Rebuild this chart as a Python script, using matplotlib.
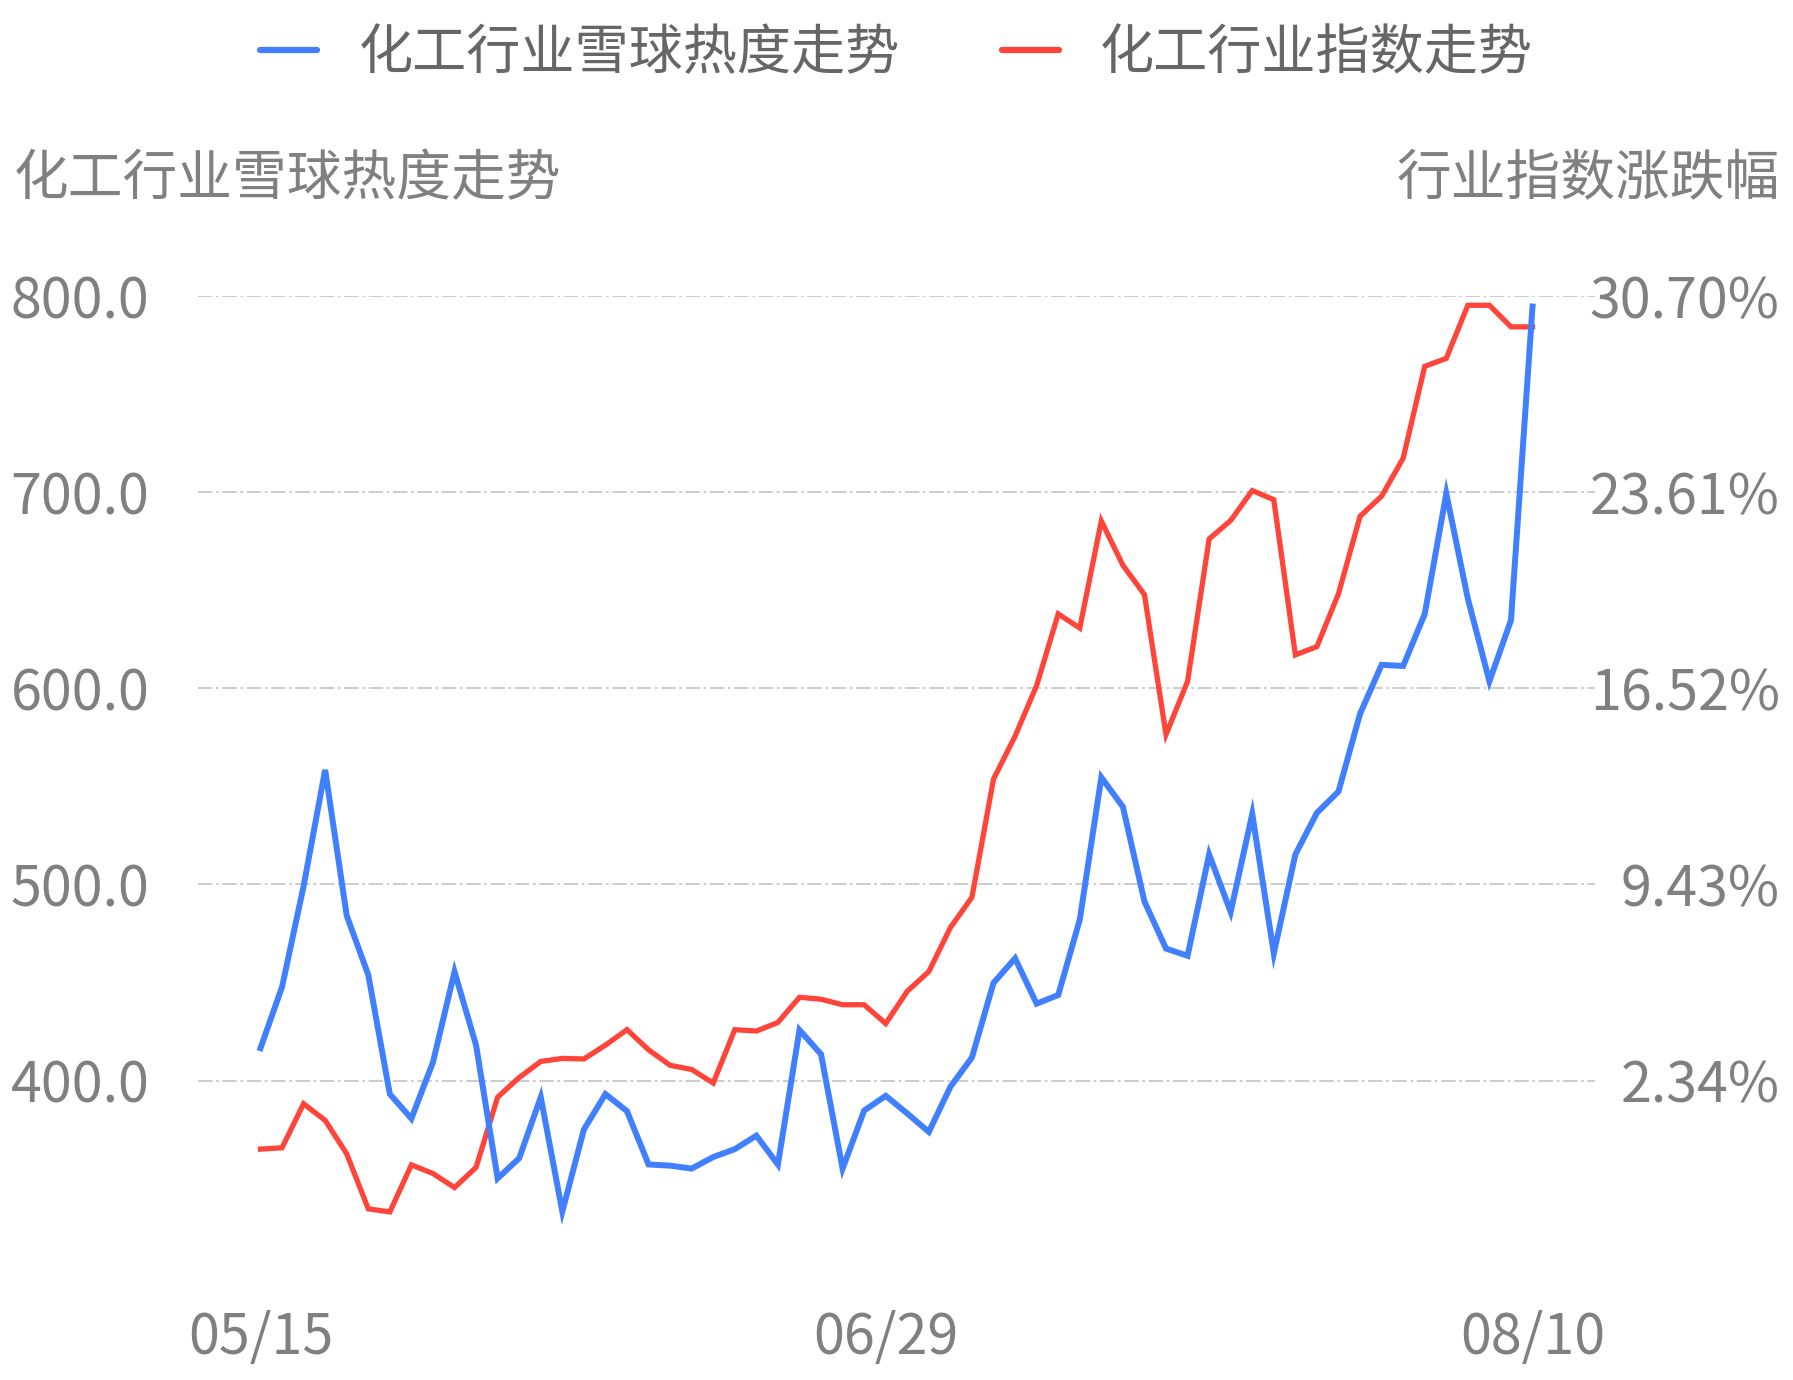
import matplotlib
matplotlib.use('Agg')
import matplotlib.pyplot as plt
from matplotlib.lines import Line2D

plt.rcParams['font.family'] = ['Noto Sans CJK SC', 'DejaVu Sans']

# 化工行业雪球热度 (left axis)
heat = [416.5, 447.7, 499.1, 558.4, 484.1, 453.9, 393.1, 380.6, 409.3, 455.5,
        418.0, 350.1, 360.4, 391.5, 333.2, 375.0, 393.1, 384.4, 357.2, 356.6,
        355.1, 361.0, 365.0, 371.9, 357.2, 425.8, 413.4, 355.1, 384.7, 392.2,
        383.2, 373.8, 396.8, 411.8, 449.8, 462.3, 439.2, 443.6, 482.0, 554.6,
        539.6, 491.3, 467.3, 463.6, 515.3, 486.0, 535.9, 464.8, 515.3, 536.5,
        547.4, 587.0, 612.0, 611.4, 637.9, 699.3, 645.7, 603.6, 634.7, 794.7]
# 行业指数涨跌幅 in % (right axis)
index_pct = [-0.14, -0.09, 1.50, 0.90, -0.31, -2.30, -2.41, -0.71, -1.02, -1.53,
             -0.80, 1.74, 2.45, 3.03, 3.14, 3.12, 3.62, 4.18, 3.45, 2.89,
             2.74, 2.25, 4.18, 4.13, 4.44, 5.35, 5.28, 5.08, 5.08, 4.40,
             5.57, 6.28, 7.87, 8.97, 13.24, 14.79, 16.62, 19.21, 18.70, 22.57,
             20.97, 19.91, 14.85, 16.77, 21.92, 22.59, 23.67, 23.34, 17.73, 18.03,
             19.94, 22.74, 23.47, 24.84, 28.16, 28.45, 30.37, 30.37, 29.59, 29.59]

x_tick_pos = [0, 29, 59]
x_tick_labels = ['05/15', '06/29', '08/10']
left_ticks = [400, 500, 600, 700, 800]
right_ticks = [2.34, 9.43, 16.52, 23.61, 30.70]

blue = '#4080ff'
red = '#ff443a'
grey = '#808080'
fs = 39.4
tfs = 40

fig = plt.figure(figsize=(17.93, 13.80), dpi=100)
ax2 = fig.add_axes([0.1104, 0.0749, 0.7792, 0.7105])
ax = ax2.twinx()
ax.set_zorder(ax2.get_zorder() + 1)
ax.patch.set_visible(False)

x = list(range(len(heat)))
ax2.plot(x, index_pct, color=red, lw=3.8, solid_joinstyle='miter', clip_on=False)
ax.plot(x, heat, color=blue, lw=4.3, solid_joinstyle='miter', clip_on=False)

ax2.set_xlim(-2.9, 61.9)
ax.set_ylim(300, 800)
ax2.set_ylim(right_ticks[0] - (right_ticks[1] - right_ticks[0]), right_ticks[-1])

# left axis (heat) lives on the twin, so swap tick sides
ax.yaxis.tick_left()
ax2.yaxis.tick_right()
ax.set_yticks(left_ticks)
ax.set_yticklabels(['%.1f' % v for v in left_ticks])
ax2.set_yticks(right_ticks)
ax2.set_yticklabels(['%.2f%%' % v for v in right_ticks])
ax2.set_xticks(x_tick_pos)
ax2.set_xticklabels(x_tick_labels)

ax2.grid(axis='y', color='#c8c8c8', lw=1.3, linestyle=(0, (8, 2, 1.5, 2)))
ax2.set_axisbelow(True)

for a in (ax, ax2):
    for sp in a.spines.values():
        sp.set_visible(False)

ax.tick_params(axis='y', length=0, pad=35, labelsize=tfs, labelcolor=grey)
ax2.tick_params(axis='y', length=0, pad=133, labelsize=tfs, labelcolor=grey)
ax2.tick_params(axis='x', length=0, pad=24, labelsize=tfs, labelcolor=grey)
for t in ax2.get_yticklabels():
    t.set_horizontalalignment('right')

fig.text(14 / 1793, 1 - 179.5 / 1380, '化工行业雪球热度走势', fontsize=fs, color=grey,
         ha='left', va='center')
fig.text(1780 / 1793, 1 - 179.5 / 1380, '行业指数涨跌幅', fontsize=fs, color=grey,
         ha='right', va='center')

handles = [Line2D([], [], color=blue, lw=4.5, solid_capstyle='round'),
           Line2D([], [], color=red, lw=4.5, solid_capstyle='round')]
fig.legend(handles, ['化工行业雪球热度走势', '化工行业指数走势'], loc='center',
           bbox_to_anchor=(0.5, 1 - 53.7 / 1380), ncol=2, frameon=False,
           fontsize=39, labelcolor='#666666', handlelength=1.06,
           handletextpad=0.76, columnspacing=1.88)

fig.savefig('out.png', dpi=100)
